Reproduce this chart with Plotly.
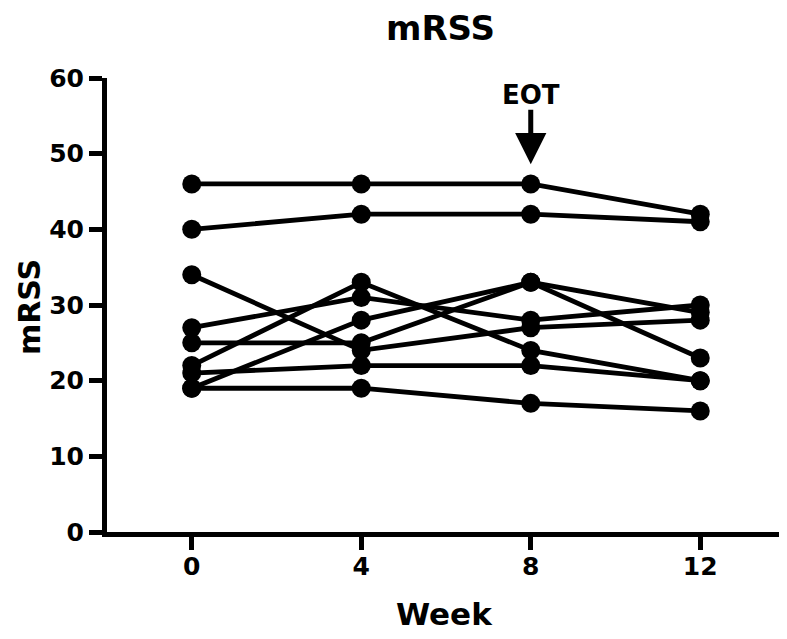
import plotly.graph_objects as go

weeks = [0, 4, 8, 12]

patient_1 = [46, 46, 46, 42]
patient_2 = [40, 42, 42, 41]
patient_3 = [34, 24, 27, 28]
patient_4 = [27, 31, 28, 30]
patient_5 = [25, 25, 33, 29]
patient_6 = [22, 33, 24, 20]
patient_7 = [21, 22, 22, 20]
patient_8 = [19, 28, 33, 23]
patient_9 = [19, 19, 17, 16]

patients = [patient_1, patient_2, patient_3, patient_4, patient_5,
            patient_6, patient_7, patient_8, patient_9]

x_ticks = [0, 4, 8, 12]
y_ticks = [0, 10, 20, 30, 40, 50, 60]

FONT = "DejaVu Sans, Liberation Sans, Arial, sans-serif"

# page body has an 8px default margin; the figure is sized to sit inside it
OFF = 8
W, H = 787 - OFF, 639 - OFF
L, T, R = 107 - OFF, 78 - OFF, 2
PW, PH = 678, 454
B = H - T - PH

fig = go.Figure()
for vals in patients:
    fig.add_trace(go.Scatter(
        x=weeks, y=vals, mode="lines+markers",
        line=dict(color="black", width=4.8),
        marker=dict(color="black", size=19),
        showlegend=False, cliponaxis=False,
    ))

fig.add_annotation(x=8, y=57.8, text="<b>EOT</b>", showarrow=False,
                   font=dict(family=FONT, size=26, color="black"))
fig.add_annotation(x=8, y=48.6, ax=8, ay=56.0, axref="x", ayref="y",
                   text="", showarrow=True, arrowhead=2, arrowsize=1.25,
                   arrowwidth=5, arrowcolor="black")

# titles as paper-positioned annotations
fig.add_annotation(xref="paper", yref="paper", x=(440 - 107) / PW, y=1 + (78 - 28) / PH,
                   text="<b>mRSS</b>", showarrow=False, xanchor="center", yanchor="middle",
                   font=dict(family=FONT, size=34, color="black"))
fig.add_annotation(xref="paper", yref="paper", x=-(107 - 29) / PW, y=(532 - 307) / PH,
                   text="<b>mRSS</b>", showarrow=False, xanchor="center", yanchor="middle",
                   textangle=-90, font=dict(family=FONT, size=30, color="black"))
fig.add_annotation(xref="paper", yref="paper", x=(444 - 107) / PW, y=-(614 - 532) / PH,
                   text="<b>Week</b>", showarrow=False, xanchor="center", yanchor="middle",
                   font=dict(family=FONT, size=31, color="black"))

fig.update_layout(
    width=W, height=H,
    margin=dict(l=L, r=R, t=T, b=B, autoexpand=False),
    paper_bgcolor="white", plot_bgcolor="white",
    font=dict(family=FONT, color="black"),
)
fig.update_xaxes(
    range=[-2, 14], tickvals=x_ticks, ticktext=[f"<b>{t}</b>" for t in x_ticks],
    showgrid=False, zeroline=False, showline=True, linecolor="black", linewidth=5,
    ticks="outside", ticklen=13, tickwidth=5, tickcolor="black", ticklabelstandoff=-5,
    tickfont=dict(family=FONT, size=25, color="black"), automargin=False,
)
fig.update_yaxes(
    range=[0, 60], tickvals=y_ticks, ticktext=[f"<b>{t}</b>" for t in y_ticks],
    showgrid=False, zeroline=False, showline=True, linecolor="black", linewidth=5,
    ticks="outside", ticklen=13, tickwidth=5, tickcolor="black",
    tickfont=dict(family=FONT, size=25, color="black"), automargin=False,
)

fig.write_html("out.html")
